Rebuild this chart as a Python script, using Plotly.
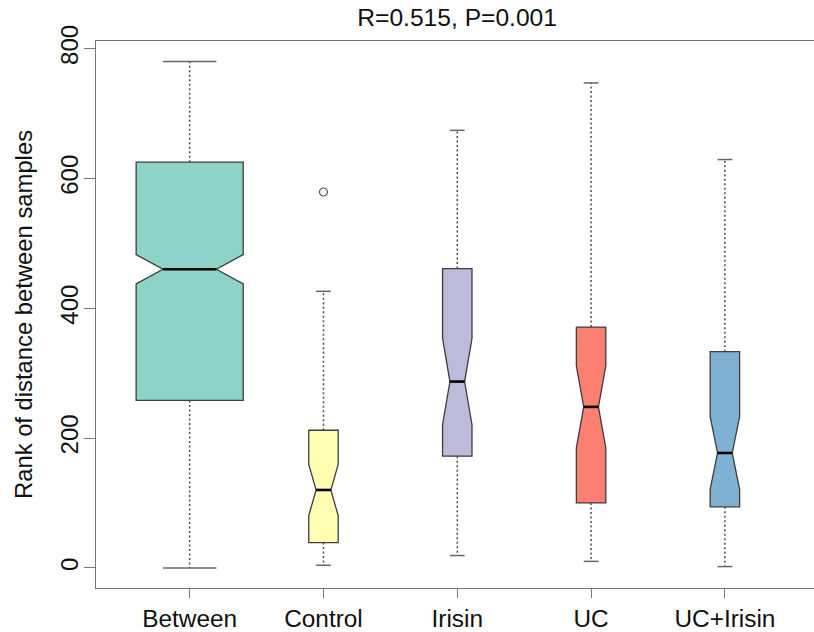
import plotly.graph_objects as go

categories = ["Between", "Control", "Irisin", "UC", "UC+Irisin"]
positions = [1, 2, 3, 4, 5]
lower_whisker = [0, 4, 19, 10, 2]
q1 = [258, 39, 172, 100, 94]
median = [460, 120, 287, 248, 177]
q3 = [625, 212, 461, 371, 333]
upper_whisker = [780, 426, 674, 747, 629]
notch_half = [22.5, 39.5, 66.5, 63, 56]
outlier_cat = [2]
outlier_val = [579]
y_ticks = [0, 200, 400, 600, 800]

colors = ["#8DD3C7", "#FFFFB3", "#BEBADA", "#FB8072", "#80B1D3"]
box_widths = [0.80, 0.22, 0.22, 0.22, 0.22]

FONT = "Liberation Sans, Arial, Helvetica, sans-serif"
fig = go.Figure()

# whiskers (dashed) and caps
wx, wy, cx, cy = [], [], [], []
for p, lo, a, b, hi, w in zip(positions, lower_whisker, q1, q3, upper_whisker, box_widths):
    wx += [p, p, None, p, p, None]
    wy += [b, hi, None, a, lo, None]
    cx += [p - w / 4, p + w / 4, None, p - w / 4, p + w / 4, None]
    cy += [hi, hi, None, lo, lo, None]
fig.add_trace(go.Scatter(x=wx, y=wy, mode="lines", line=dict(color="#4d4d4d", width=1.5, dash="2px,2.5px"),
                         hoverinfo="skip", showlegend=False))
fig.add_trace(go.Scatter(x=cx, y=cy, mode="lines", line=dict(color="#666666", width=1.5),
                         hoverinfo="skip", showlegend=False))

for i in range(len(categories)):
    fig.add_trace(go.Box(
        x=[positions[i]], q1=[q1[i]], median=[median[i]], q3=[q3[i]],
        lowerfence=[q1[i]], upperfence=[q3[i]], notchspan=[notch_half[i]],
        notched=True, notchwidth=0.25, width=box_widths[i],
        fillcolor=colors[i], line=dict(color="#3d3d3d", width=1.3),
        boxpoints=False, name=categories[i], showlegend=False, hoverinfo="skip"))

# median lines
mx, my = [], []
for p, m, w in zip(positions, median, box_widths):
    mx += [p - w / 4, p + w / 4, None]
    my += [m, m, None]
fig.add_trace(go.Scatter(x=mx, y=my, mode="lines", line=dict(color="#000000", width=2.6),
                         hoverinfo="skip", showlegend=False))

fig.add_trace(go.Scatter(x=outlier_cat, y=outlier_val, mode="markers",
                         marker=dict(symbol="circle-open", size=8, color="#555555", line=dict(width=1.2)),
                         hoverinfo="skip", showlegend=False))

fig.update_layout(
    width=814, height=632,
    margin=dict(l=96, r=0, t=41, b=44),
    paper_bgcolor="white", plot_bgcolor="white",
    font=dict(family=FONT, size=24, color="#111111"),
    title=dict(text="R=0.515, P=0.001", xref="paper", x=0.503, xanchor="center",
               yref="container", y=0.972, yanchor="middle",
               font=dict(size=24.6, family=FONT, color="#111111")),
    xaxis=dict(range=[0.3, 5.666], tickvals=positions, ticktext=categories, automargin=False,
               showline=True, linecolor="#777777", linewidth=1.3, mirror=True,
               ticks="outside", ticklen=9, tickcolor="#777777", tickwidth=1.3,
               showgrid=False, zeroline=False, tickfont=dict(size=24.4)),
    yaxis=dict(range=[-31, 811.6], tickvals=y_ticks, tickangle=-90, automargin=False,
               showline=True, linecolor="#777777", linewidth=1.3,
               ticks="outside", ticklen=11, tickcolor="#777777", tickwidth=1.3,
               ticklabelstandoff=-4,
               showgrid=False, zeroline=False, tickfont=dict(size=24),
               title=dict(text="Rank of distance between samples", standoff=16, font=dict(size=23.8))),
)

fig.write_html("out.html", config={"displayModeBar": False},
               post_script="document.body.style.margin='0';document.body.style.padding='0';")
